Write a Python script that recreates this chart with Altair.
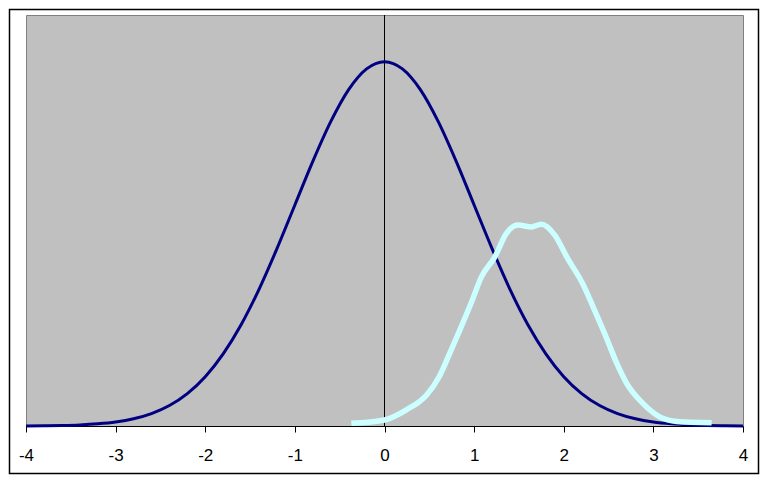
import altair as alt
import pandas as pd

# Dark blue curve
blue_x = [-4.0, -3.8, -3.6, -3.4, -3.2, -3.0, -2.8, -2.6, -2.4, -2.2, -2.0,
          -1.8, -1.6, -1.4, -1.2, -1.0, -0.8, -0.6, -0.4, -0.2, 0.0,
          0.2, 0.4, 0.6, 0.8, 1.0, 1.2, 1.4, 1.6, 1.8, 2.0,
          2.2, 2.4, 2.6, 2.8, 3.0, 3.2, 3.4, 3.6, 3.8, 4.0]
blue_y = [0.0001, 0.0003, 0.0006, 0.0012, 0.0024, 0.0044, 0.0079, 0.0136, 0.0224, 0.0355, 0.0540,
          0.0790, 0.1109, 0.1497, 0.1942, 0.2420, 0.2897, 0.3332, 0.3683, 0.3910, 0.3989,
          0.3910, 0.3683, 0.3332, 0.2897, 0.2420, 0.1942, 0.1497, 0.1109, 0.0790, 0.0540,
          0.0355, 0.0224, 0.0136, 0.0079, 0.0044, 0.0024, 0.0012, 0.0006, 0.0003, 0.0001]

# Light cyan curve
cyan_x = [-0.37, 0.0, 0.24, 0.47, 0.61, 0.73, 0.84, 0.98, 1.08, 1.23, 1.36, 1.49,
          1.64, 1.75, 1.90, 2.04, 2.21, 2.33, 2.47, 2.59, 2.70, 2.88, 3.07, 3.26, 3.65]
cyan_y = [0.003, 0.0066, 0.0175, 0.034, 0.054, 0.080, 0.105, 0.138, 0.163, 0.185, 0.211, 0.220,
          0.218, 0.221, 0.209, 0.184, 0.156, 0.130, 0.098, 0.069, 0.047, 0.025, 0.010, 0.005, 0.0036]

x_ticks = [-4, -3, -2, -1, 0, 1, 2, 3, 4]

blue_df = pd.DataFrame({"x": blue_x, "y": blue_y})
cyan_df = pd.DataFrame({"x": cyan_x, "y": cyan_y})
zero_df = pd.DataFrame({"x": [0]})
frame_df = pd.DataFrame({"a": [0]})

xscale = alt.Scale(domain=[-4, 4], nice=False, zero=False)
yscale = alt.Scale(domain=[0, 0.45], nice=False)

xaxis = alt.Axis(values=x_ticks, title=None, grid=False, domainColor="black",
                 tickColor="black", tickSize=6, labelColor="black",
                 labelFont="Liberation Sans", labelFontSize=17, labelPadding=15,
                 labelExpr="toString(datum.value)", labelFlush=False)

frame = alt.Chart(frame_df).mark_rect(filled=False, stroke="black", strokeWidth=1.5).encode(
    x=alt.value(-16.5), x2=alt.value(732.5), y=alt.value(-5.5), y2=alt.value(458.5)
)

zero_rule = alt.Chart(zero_df).mark_rule(color="black", strokeWidth=1).encode(
    x=alt.X("x:Q", scale=xscale, axis=xaxis),
    y=alt.value(0), y2=alt.value(411)
)

blue = alt.Chart(blue_df).mark_line(color="#000080", strokeWidth=3, interpolate="monotone").encode(
    x=alt.X("x:Q", scale=xscale, axis=xaxis),
    y=alt.Y("y:Q", scale=yscale, axis=None)
)

cyan = alt.Chart(cyan_df).mark_line(color="#CCFFFF", strokeWidth=5.5, interpolate="monotone").encode(
    x=alt.X("x:Q", scale=xscale, axis=xaxis),
    y=alt.Y("y:Q", scale=yscale, axis=None)
)

chart = alt.layer(frame, zero_rule, blue, cyan).properties(
    width=717, height=411,
    autosize=alt.AutoSizeParams(type="none"),
    padding={"left": 18, "top": 7, "right": 17, "bottom": 49},
    background="white"
).configure_view(fill="#C0C0C0", stroke="#808080", strokeWidth=1)

chart.save("out.html", embed_options={"renderer": "svg", "actions": False})
